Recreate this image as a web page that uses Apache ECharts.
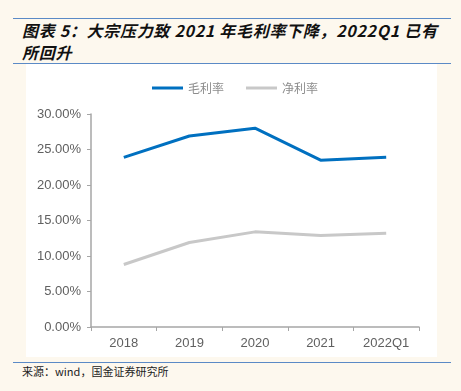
<!DOCTYPE html>
<html>
<head>
<meta charset="utf-8">
<script src="https://cdn.jsdelivr.net/npm/echarts@6/dist/echarts.min.js"></script>
<style>
  html, body { margin: 0; padding: 0; background: #fdf8ee; }
  #wrap { position: relative; width: 461px; height: 391px; overflow: hidden; }
  .rule { position: absolute; left: 13px; width: 438px; height: 1px; background: #5b8ac6; }
  #title {
    position: absolute; left: 22px; top: 19px; width: 430px;
    font-family: "Noto Sans CJK SC", sans-serif; font-weight: bold; font-style: italic;
    font-size: 16px; line-height: 22px; letter-spacing: 0.7px; color: #111; white-space: nowrap;
  }
  #panel { position: absolute; left: 26px; top: 64px; width: 411px; height: 293px; background: #fff; }
  #src {
    position: absolute; left: 22px; top: 363px;
    font-family: "Noto Sans CJK SC", sans-serif; font-size: 11px; color: #222;
  }
  #chart { position: absolute; left: 0; top: 0; width: 461px; height: 391px; }
</style>
</head>
<body>
<div id="wrap">
  <div class="rule" style="top:18px"></div>
  <div id="title">图表 5：大宗压力致 2021 年毛利率下降，2022Q1 已有<br>所回升</div>
  <div class="rule" style="top:63px"></div>
  <div id="panel"></div>
  <div class="rule" style="top:362px"></div>
  <div id="src">来源：wind，国金证券研究所</div>
  <div id="chart"></div>
</div>
<script>
var categories = ['2018', '2019', '2020', '2021', '2022Q1'];
var grossMargin = [23.9, 26.9, 28.0, 23.5, 23.9];
var netMargin = [8.8, 11.9, 13.4, 12.9, 13.2];
var yTicks = [0, 5, 10, 15, 20, 25, 30];

var chart = echarts.init(document.getElementById('chart'), null, { renderer: 'canvas' });

var labelFont = { color: '#606060', fontSize: 13, fontFamily: 'Liberation Sans, Arial, sans-serif' };

chart.setOption({
  backgroundColor: 'transparent',
  animation: false,
  legend: {
    top: 77,
    left: 147,
    itemWidth: 31,
    itemHeight: 3,
    itemGap: 22,
    icon: 'rect',
    textStyle: { color: '#8c8c8c', fontSize: 12, fontFamily: 'Noto Sans CJK SC' },
    data: ['毛利率', '净利率']
  },
  grid: { left: 91, right: 42, top: 114, bottom: 64 },
  xAxis: {
    type: 'category',
    data: categories,
    boundaryGap: true,
    axisLine: { lineStyle: { color: '#a6a6a6', width: 1.5 } },
    axisTick: { show: true, length: 4, lineStyle: { color: '#a6a6a6' } },
    axisLabel: Object.assign({ margin: 10 }, labelFont)
  },
  yAxis: {
    type: 'value',
    min: yTicks[0],
    max: yTicks[yTicks.length - 1],
    interval: 5,
    axisLine: { show: true, lineStyle: { color: '#a6a6a6', width: 1.5 } },
    axisTick: { show: true, length: 4, lineStyle: { color: '#a6a6a6' } },
    splitLine: { show: false },
    axisLabel: Object.assign({ margin: 10, formatter: function (v) { return v.toFixed(2) + '%'; } }, labelFont)
  },
  series: [
    {
      name: '毛利率',
      type: 'line',
      data: grossMargin,
      showSymbol: false,
      symbol: 'none',
      itemStyle: { color: '#0070c0' },
      lineStyle: { color: '#0070c0', width: 3 }
    },
    {
      name: '净利率',
      type: 'line',
      data: netMargin,
      showSymbol: false,
      symbol: 'none',
      itemStyle: { color: '#c8c8c8' },
      lineStyle: { color: '#c8c8c8', width: 3 }
    }
  ]
});
</script>
</body>
</html>
